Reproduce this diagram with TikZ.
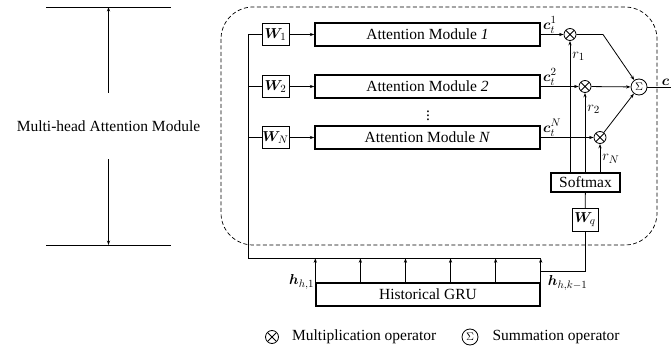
\documentclass[tikz,border=0pt]{standalone}
\usepackage{amsmath,amssymb,bm}
\usepackage{fontspec}
\setmainfont{Liberation Serif}
\usetikzlibrary{arrows.meta,calc}

\begin{document}
\begin{tikzpicture}[
        x=1pt, y=-1pt,
        font=\fontsize{15.5}{18}\selectfont,
        >={Stealth[length=4.5pt,width=3.2pt]},
        % Styles
        attbox/.style={rectangle, draw=black, line width=1.4pt, minimum width=225pt, minimum height=23pt, inner sep=0pt},
        wbox/.style={rectangle, draw=black, line width=0.8pt, minimum width=27pt, minimum height=22pt, inner sep=0pt},
        softbox/.style={rectangle, draw=black, line width=1.4pt, minimum width=69pt, minimum height=19pt, inner sep=0pt},
        mult/.style={circle, draw=black, line width=0.8pt, minimum size=12pt, inner sep=0pt,
            path picture={\draw[line width=0.8pt] (path picture bounding box.center) ++(45:6pt) -- ++(225:12pt)
                (path picture bounding box.center) ++(135:6pt) -- ++(315:12pt);}},
        sumop/.style={circle, draw=black, line width=0.8pt, minimum size=16pt, inner sep=0pt, font=\fontsize{11}{12}\selectfont},
        wire/.style={line width=0.8pt},
        arrow/.style={wire, ->},
        lbl/.style={inner sep=1pt}
    ]
    \useasboundingbox (0,0) rectangle (671,352);

    % ================= LEFT SIDE =================
    \draw[wire] (46,7) -- coordinate (topmid) (171,7);
    \draw[wire] (46,245) -- coordinate (botmid) (171,245);
    \node[minimum height=66pt, inner sep=0pt] (mham) at (108.5,126) {Multi-head Attention Module};
    \draw[arrow] (mham.north) -- (topmid);
    \draw[arrow] (mham.south) -- (botmid);

    % Dashed frame of the module
    \draw[wire, line width=0.7pt, dashed, dash pattern=on 4pt off 2.5pt, rounded corners=32pt] (221,7) rectangle (657,245);

    % ================= HEADS =================
    \foreach \i/\y/\mx/\num in {1/34.5/570/1, 2/86.5/585/2, N/137.5/600/N} {
        \node[wbox] (w\i) at (275.5,\y) {$\bm{W}_{\i}$};
        \node[attbox] (att\i) at (427.5,\y) {Attention Module \textit{\num}};
        \node[mult] (m\i) at (\mx,\y) {};
        \draw[arrow] (w\i) -- (att\i);
        \draw[arrow] (att\i) -- node[lbl, pos=0, anchor=south west, xshift=1pt] {$\bm{c}_t^{\i}$} (m\i);
    }
    \node[inner sep=0pt] (vdots) at (428,113) {$\vdots$};

    % Softmax and query weights
    \node[softbox] (soft) at (585.5,182.5) {Softmax};
    \node[wbox, minimum width=26pt, minimum height=23pt] (wq) at (585,220) {$\bm{W}_q$};
    \draw[wire] (soft) -- (wq);
    \foreach \i/\p in {1/0.88, 2/0.79, N/0.47}
        \draw[arrow] (soft.north -| m\i) -- node[lbl, pos=\p, right, xshift=1pt] {$r_{\i}$} (m\i);

    % Summation
    \node[sumop] (sum) at (639,87) {$\Sigma$};
    \draw[arrow] (m1) -- ++(33,0) -- (sum);
    \draw[arrow] (m2) -- (sum);
    \draw[arrow] (mN) -- (sum);
    \coordinate (out) at (671,87);
    \draw[wire] (sum) -- node[lbl, pos=0.55, anchor=south west] {$\bm{c}$} (out);

    % ================= HISTORICAL GRU =================
    \node[rectangle, draw=black, line width=1.4pt, minimum width=224pt, minimum height=23pt, inner sep=0pt] (gru) at (428,294.5) {Historical GRU};
    \coordinate (busend) at ([yshift=24pt]gru.north east);
    \draw[wire] (w1.west) -- ++(-13,0) |- (busend);
    \foreach \i in {2,N}
        \draw[wire] (w\i.west) -- ++(-13,0);
    \foreach \k in {0,...,5}
        \draw[arrow] ($(gru.north west)!\k/5!(gru.north east)$) -- ++(0,-24);
    \node[lbl, anchor=east] (h1) at (gru.north west) {$\bm{h}_{h,1}$};
    \draw[wire] ([yshift=11pt]gru.north east) -| (wq);
    \node[lbl, anchor=north west] (hk) at ([xshift=6pt,yshift=8pt]gru.north east) {$\bm{h}_{h,k-1}$};

    % ================= LEGEND =================
    \node[mult, minimum size=13pt] (legm) at (272,337) {};
    \node[anchor=west, inner sep=0pt] (legmtxt) at ([xshift=13pt]legm.east) {Multiplication operator};
    \node[sumop] (legs) at (470,337) {$\Sigma$};
    \node[anchor=west, inner sep=0pt] (legstxt) at ([xshift=14pt]legs.east) {Summation operator};

\end{tikzpicture}
\end{document}
